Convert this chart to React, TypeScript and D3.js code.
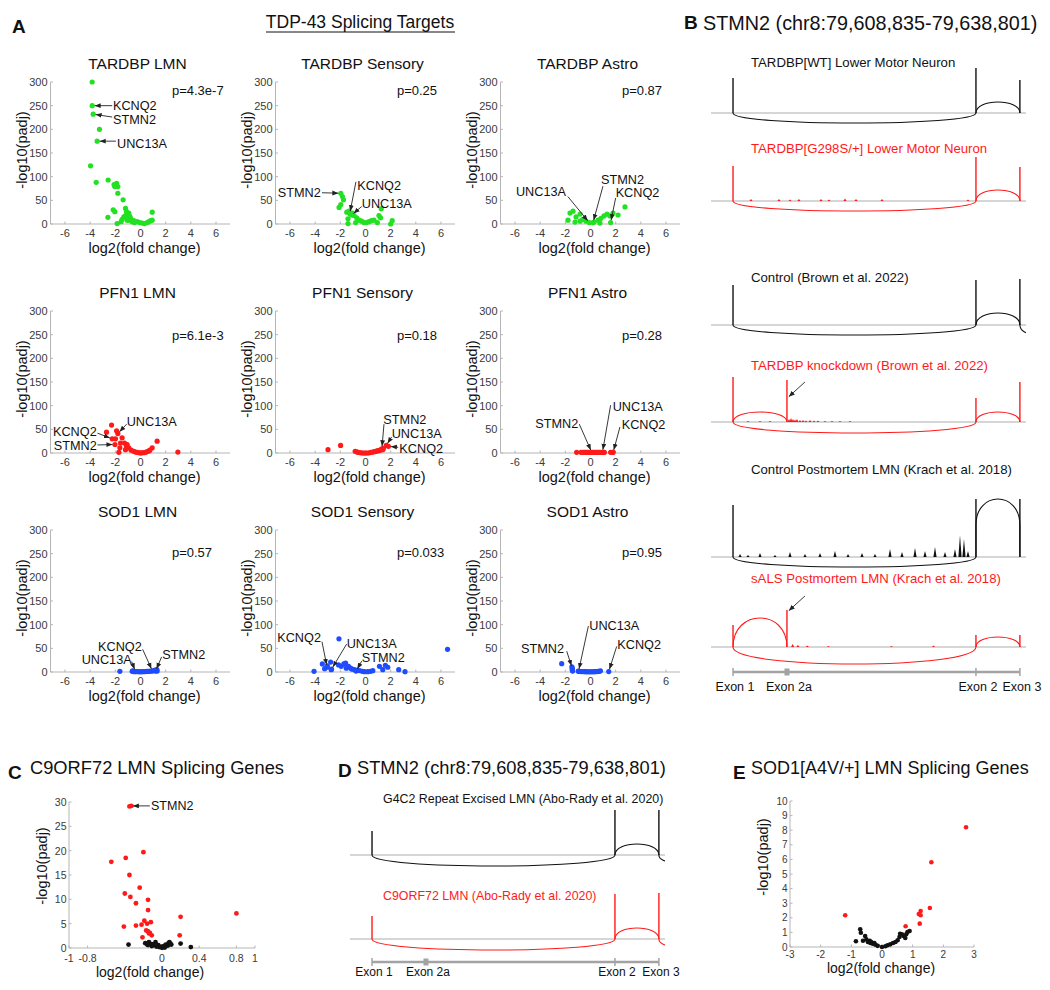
import React from "react";
import * as d3 from "d3";

const FONT = "'Liberation Sans', Arial, Helvetica, sans-serif";
const GREEN = "#22e022";
const RED = "#ff1a1a";
const BLUE = "#1f4cff";
const BLACK = "#111111";
const AXIS = "#b5b5b5";
const TICKTXT = "#3a3a3a";

// ---------------- Panel A: volcano plots ----------------
const volcanoXTicks = [-6, -4, -2, 0, 2, 4, 6];
const volcanoYTicks = [0, 50, 100, 150, 200, 250, 300];
const volcanoTitles = [
  "TARDBP LMN", "TARDBP Sensory", "TARDBP Astro",
  "PFN1 LMN", "PFN1 Sensory", "PFN1 Astro",
  "SOD1 LMN", "SOD1 Sensory", "SOD1 Astro",
];
const volcanoPValues = [
  "p=4.3e-7", "p=0.25", "p=0.87",
  "p=6.1e-3", "p=0.18", "p=0.28",
  "p=0.57", "p=0.033", "p=0.95",
];

const tardbpLmnPts = [[-3.84,300],[-3.84,250],[-3.76,232],[-3.26,200],[-3.44,175],[-3.97,123],[-3.52,88],[-2.57,93],[-1.9,86],[-2.04,79],[-1.8,79],[-2.1,83],[-1.8,65],[-1.38,51],[-2.17,30],[-2.04,26],[-1.19,33],[-1.11,26],[-0.93,23],[-1.06,19],[-2.59,14],[-1.32,15],[-0.79,12],[-0.95,8],[-1.54,5],[-1.85,1],[-0.66,5],[-0.53,7],[-0.26,5],[-0.05,3],[0.13,2],[0.32,1],[0.53,3],[0.66,5],[0.8,7],[0.93,8],[0.93,25],[-0.48,3],[-1.06,8],[-1.46,10],[-1.2,17],[-0.85,16]];
const tardbpSensPts = [[-1.96,65],[-1.83,58],[-1.75,51],[-1.96,41],[-2.1,35],[-1.49,25],[-1.31,27],[-1.17,21],[-1.25,22],[-1.1,19],[-1.04,23],[-1.39,11],[-0.91,18],[-0.7,13],[-0.51,8],[-0.3,6],[-0.12,3],[0.09,3],[0.28,5],[0.46,7],[0.67,8],[0.94,3],[1.07,18],[1.25,32],[1.2,13],[2.0,0],[2.12,7],[-1.39,1],[-0.78,3]];
const tardbpAstroPts = [[-1.63,23],[-1.39,27],[-1.15,15],[-0.83,21],[-0.6,10],[-0.36,6],[-0.1,3],[0.2,3],[0.28,4],[0.6,8],[0.83,12],[1.07,17],[1.31,21],[1.55,17],[1.6,3],[1.79,23],[2.19,19],[2.74,36],[-0.83,6],[0.75,2],[-1.79,8],[-1.23,4]];
const pfn1LmnPts = [[-2.3,59],[-2.7,44],[-1.8,41],[-1.9,47],[-2.25,30],[-1.99,30],[-1.46,32],[-1.59,21],[-1.27,21],[-1.06,18],[-1.11,14],[-1.64,11],[-1.19,7],[-2.03,18],[-0.93,11],[-0.74,6],[-0.53,3.5],[-0.26,1.5],[0,0],[0.26,0.7],[0.53,3],[0.74,6],[0.93,11],[1.32,25],[2.97,2],[-1.72,1.4],[-0.4,2],[0.4,1.5],[0.1,0.3],[-0.1,0.5],[0.65,4]];
const pfn1SensPts = [[-2.98,7],[-1.98,16],[-0.82,3.5],[-0.61,1.4],[-0.34,0.3],[-0.2,0],[-0.08,0],[0.05,0],[0.18,0],[0.32,0.5],[0.45,1.4],[0.58,2],[0.71,2.8],[0.82,3.5],[0.92,4.3],[1.02,5],[1.11,5.7],[1.2,6.5],[1.3,9],[1.37,7],[1.42,10],[1.65,16],[1.82,14],[-0.7,2.5],[-0.48,1]];
const pfn1AstroPts = [[-1.1,1.5],[-0.75,1.5],[-0.6,1.2],[-0.5,1.5],[-0.4,1.2],[-0.3,1.5],[-0.2,1.2],[-0.1,1.5],[0,1.2],[0.1,1.5],[0.2,1.2],[0.3,1.5],[0.4,1.2],[0.5,1.5],[0.6,1.2],[0.7,1.5],[0.8,1.2],[0.95,1.5],[1.05,1.2],[1.1,1.5],[1.6,1.5],[1.75,1.2],[1.8,1.5]];
const sod1LmnPts = [[-1.64,1.4],[-0.66,1.5],[-0.55,1],[-0.45,1],[-0.4,1],[-0.3,1],[-0.2,0.8],[-0.1,0.5],[0,0.5],[0.1,0.5],[0.2,0.8],[0.3,1],[0.4,1],[0.5,1.2],[0.6,1.5],[0.7,1.5],[0.8,2],[0.95,2],[1.05,3],[1.15,4],[1.2,2],[1.3,5],[1.32,2],[-0.62,2.5]];
const sod1SensPts = [[-4.09,1.4],[-3.43,17],[-3.25,7],[-3.05,10],[-3.03,13],[-2.77,21],[-2.72,5],[-2.7,6],[-2.11,70],[-2.14,15],[-1.93,12],[-1.72,17],[-1.58,19],[-1.53,8],[-1.35,12],[-1.19,8],[-1.06,6],[-0.87,5],[-0.75,2],[-0.66,3.5],[-0.47,3],[-0.26,1.4],[-0.08,0.7],[0.18,0.7],[0.4,1.4],[0.58,2.8],[1.11,12],[1.37,5],[1.58,14],[1.77,10],[2.64,5],[3.14,0.7],[6.52,48]];
const sod1AstroPts = [[-2.29,17.6],[-1.45,8],[-1.45,4],[-1.48,11],[-1.42,2],[-0.97,2],[-0.95,1.5],[-0.85,1.5],[-0.75,1],[-0.6,1],[-0.5,0.8],[-0.4,0.6],[-0.3,0.5],[-0.2,0.5],[-0.1,0.5],[0,0.5],[0.1,0.5],[0.2,0.5],[0.3,0.6],[0.4,0.8],[0.5,1],[0.6,1.2],[0.7,1.5],[0.79,2.5],[1.45,1]];

// gene positions (log2FC, -log10 padj) in each panel
const tardbpLmnGenes = { KCNQ2: [-3.84, 250], STMN2: [-3.76, 232], UNC13A: [-3.44, 175] };
const tardbpSensGenes = { STMN2: [-1.96, 65], KCNQ2: [-1.25, 22], UNC13A: [-1.1, 19] };
const tardbpAstroGenes = { UNC13A: [-0.1, 3], STMN2: [0.2, 3], KCNQ2: [1.6, 3] };
const pfn1LmnGenes = { UNC13A: [-1.8, 41], KCNQ2: [-2.25, 30], STMN2: [-2.03, 18] };
const pfn1SensGenes = { STMN2: [1.3, 9], UNC13A: [1.65, 16], KCNQ2: [1.82, 14] };
const pfn1AstroGenes = { STMN2: [0.1, 1.5], UNC13A: [0.95, 1.5], KCNQ2: [1.8, 1.5] };
const sod1LmnGenes = { KCNQ2: [0.95, 2], UNC13A: [-0.4, 1], STMN2: [1.2, 2] };
const sod1SensGenes = { KCNQ2: [-3.05, 10], UNC13A: [-2.7, 6], STMN2: [-0.75, 2] };
const sod1AstroGenes = { STMN2: [-1.45, 8], UNC13A: [-0.95, 1.5], KCNQ2: [1.45, 1] };

// label layout (text anchor and arrow tail, in axis units)
const tardbpLmnLabels = [
  { g: "KCNQ2", lx: -2.19, ly: 250, a: "start", ax: -2.25, ay: 250 },
  { g: "STMN2", lx: -2.19, ly: 220, a: "start", ax: -2.25, ay: 226 },
  { g: "UNC13A", lx: -1.87, ly: 169, a: "start", ax: -1.95, ay: 175 },
];
const tardbpSensLabels = [
  { g: "STMN2", lx: -3.56, ly: 66, a: "end", ax: -3.46, ay: 66 },
  { g: "KCNQ2", lx: -0.65, ly: 81, a: "start", ax: -0.76, ay: 89 },
  { g: "UNC13A", lx: -0.3, ly: 43, a: "start", ax: -0.3, ay: 37 },
];
const tardbpAstroLabels = [
  { g: "UNC13A", lx: -1.95, ly: 68, a: "end", ax: -1.8, ay: 58 },
  { g: "STMN2", lx: 0.83, ly: 93, a: "start", ax: 0.99, ay: 80 },
  { g: "KCNQ2", lx: 2.0, ly: 66, a: "start", ax: 2.0, ay: 55 },
];
const pfn1LmnLabels = [
  { g: "UNC13A", lx: -1.1, ly: 66, a: "start", ax: -1.1, ay: 61 },
  { g: "KCNQ2", lx: -3.48, ly: 44.5, a: "end", ax: -3.42, ay: 42 },
  { g: "STMN2", lx: -3.48, ly: 14, a: "end", ax: -3.42, ay: 17 },
];
const pfn1SensLabels = [
  { g: "STMN2", lx: 1.42, ly: 69, a: "start", ax: 1.47, ay: 61 },
  { g: "UNC13A", lx: 2.08, ly: 39.5, a: "start", ax: 2.08, ay: 34 },
  { g: "KCNQ2", lx: 2.69, ly: 9.5, a: "start", ax: 2.6, ay: 12 },
];
const pfn1AstroLabels = [
  { g: "STMN2", lx: -0.97, ly: 61, a: "end", ax: -0.89, ay: 61 },
  { g: "UNC13A", lx: 1.76, ly: 98, a: "start", ax: 1.6, ay: 101 },
  { g: "KCNQ2", lx: 2.48, ly: 59, a: "start", ax: 2.34, ay: 55 },
];
const sod1LmnLabels = [
  { g: "KCNQ2", lx: 0.1, ly: 53.5, a: "end", ax: 0.17, ay: 48 },
  { g: "UNC13A", lx: -0.7, ly: 25, a: "end", ax: -0.7, ay: 22 },
  { g: "STMN2", lx: 1.73, ly: 36, a: "start", ax: 1.68, ay: 32 },
];
const sod1SensLabels = [
  { g: "KCNQ2", lx: -3.54, ly: 71, a: "end", ax: -3.46, ay: 64 },
  { g: "UNC13A", lx: -1.5, ly: 59.5, a: "start", ax: -1.5, ay: 59 },
  { g: "STMN2", lx: -0.3, ly: 29, a: "start", ax: -0.3, ay: 23 },
];
const sod1AstroLabels = [
  { g: "STMN2", lx: -2.1, ly: 48.5, a: "end", ax: -1.89, ay: 44 },
  { g: "UNC13A", lx: -0.1, ly: 97, a: "start", ax: -0.17, ay: 97 },
  { g: "KCNQ2", lx: 2.13, ly: 57, a: "start", ax: 2.08, ay: 54 },
];

const volcanoPts = [tardbpLmnPts, tardbpSensPts, tardbpAstroPts, pfn1LmnPts, pfn1SensPts, pfn1AstroPts, sod1LmnPts, sod1SensPts, sod1AstroPts];
const volcanoGenes = [tardbpLmnGenes, tardbpSensGenes, tardbpAstroGenes, pfn1LmnGenes, pfn1SensGenes, pfn1AstroGenes, sod1LmnGenes, sod1SensGenes, sod1AstroGenes];
const volcanoLabels = [tardbpLmnLabels, tardbpSensLabels, tardbpAstroLabels, pfn1LmnLabels, pfn1SensLabels, pfn1AstroLabels, sod1LmnLabels, sod1SensLabels, sod1AstroLabels];
const rowColors = [GREEN, RED, BLUE];
const colAxisX = [50.5, 275.5, 500.5];
const rowBase = [224, 453, 672];
const rowPY = [283, 249, 253];

// ---------------- STMN2 sashimi data ----------------
const stmn2Window = [79608835, 79638801];
const exonNames = ["Exon 1", "Exon 2a", "Exon 2", "Exon 3"];
const exonStarts = [79610930, 79616060, 79634040, 79638220];
const downstreamExon = 79640800;
const [E1, E2A, E2, E3] = exonStarts;

const g298sNoise = [[79612640,2],[79615300,2],[79616350,1.5],[79617200,2],[79619300,2],[79620060,1.5],[79621580,2.5],[79622630,2],[79625100,2],[79633280,1.5]];
const kdNoise = [[79612355,1],[79613496,1],[79614447,1],[79616255,3],[79616445,4],[79616636,3],[79616826,2.5],[79617016,3],[79617300,2],[79617587,2],[79617872,1.5],[79618253,2],[79618633,1.5],[79619014,1.5],[79619680,1],[79620346,1],[79621107,1],[79622058,1]];
const krachCtrlNoise = [[79611600,3],[79612355,2],[79613496,4],[79614923,2],[79616350,5],[79617777,3],[79619204,4],[79620630,6],[79621870,3],[79623200,4],[79624436,3],[79625863,8],[79627005,5],[79628242,9],[79629193,6],[79630144,10],[79631095,5],[79632046,8],[79632522,22],[79632902,18],[79633283,6]];
const salsNoise = [[79616600,3],[79617100,2],[79618000,1.5],[79620000,1],[79626000,1],[79630000,1.5]];

const bTracks = [
  { label: "TARDBP[WT] Lower Motor Neuron", color: BLACK, spikes: [[E1,35],[E2,45],[E3,33]], arcs: [[E1,E2,-10],[E2,E3,11]], noise: [] },
  { label: "TARDBP[G298S/+] Lower Motor Neuron", color: RED, spikes: [[E1,35],[E2,44],[E3,34]], arcs: [[E1,E2,-10],[E2,E3,11]], noise: g298sNoise },
  { label: "Control (Brown et al. 2022)", color: BLACK, spikes: [[E1,40],[E2,45],[E3,46]], arcs: [[E1,E2,-10],[E2,E3,12],[E3,downstreamExon,-9]], noise: [] },
  { label: "TARDBP knockdown (Brown et al. 2022)", color: RED, spikes: [[E1,45],[E2A,42],[E2,24],[E3,40]], arcs: [[E1,E2A,10],[E1,E2,-11],[E2,E3,10]], noise: kdNoise, arrow: [E2A, 25] },
  { label: "Control Postmortem LMN (Krach et al. 2018)", color: BLACK, spikes: [[E1,52],[E2,58],[E3,58]], arcs: [[E1,E2,-10],[E2,E3,58]], noise: krachCtrlNoise },
  { label: "sALS Postmortem LMN (Krach et al. 2018)", color: RED, spikes: [[E1,22],[E2A,37],[E2,12],[E3,12]], arcs: [[E1,E2A,29],[E1,E2,-17],[E2,E3,10]], noise: salsNoise, arrow: [E2A, 36] },
];
const bBaselines = [113, 201, 325, 422, 557, 647];
const bLabelY = [62, 148, 277, 365, 469, 578];

const dTracks = [
  { label: "G4C2 Repeat Excised LMN (Abo-Rady et al. 2020)", color: BLACK, spikes: [[E1,24],[E2,45],[E3,45]], arcs: [[E1,E2,-11],[E2,E3,11],[E3,downstreamExon,-7]], noise: [] },
  { label: "C9ORF72 LMN (Abo-Rady et al. 2020)", color: RED, spikes: [[E1,23],[E2,45],[E3,46]], arcs: [[E1,E2,-11],[E2,E3,11],[E3,downstreamExon,-7]], noise: [] },
];
const dBaselines = [855, 939];
const dLabelY = [799, 896];

// ---------------- Panel C data ----------------
const cXTicks = [-1, -0.8, 0, 0.4, 0.8, 1];
const cYTicks = [0, 5, 10, 15, 20, 25, 30];
const c9SigPts = [[-0.35,29.1],[-0.33,29.2],[-0.2,19.7],[-0.545,17.7],[-0.39,18.5],[-0.35,15],[-0.24,12.4],[-0.4,11.2],[-0.34,10.5],[-0.15,9.9],[-0.28,9.2],[-0.15,7.8],[0.2,6.4],[0.8,7.1],[-0.19,5.6],[-0.12,5.3],[-0.16,5],[-0.22,4.8],[-0.28,4.6],[-0.41,4.4],[-0.17,3.6],[-0.15,3.4],[-0.14,3],[-0.13,3.1],[-0.11,2.6],[0.19,2.6],[-0.21,2.2]];
const c9NsPts = [[-0.36,0.7],[-0.16,0.7],[-0.14,1.2],[-0.11,0.8],[-0.07,1.2],[-0.09,0.6],[-0.04,0.6],[-0.01,0.3],[0.02,0.4],[0.04,0.7],[0.07,1.0],[0.08,1.2],[0.06,0.5],[0.1,0.7],[0.2,0.9],[0.31,0.2],[-0.03,0.2],[-0.06,0.3],[-0.11,0.4],[-0.15,0.6],[0.03,0.1],[0.07,0.6],[0,0.05],[0.09,0.9],[-0.18,1]];
const c9Stmn2 = [-0.34, 29.2];

// ---------------- Panel E data ----------------
const eXTicks = [-3, -2, -1, 0, 1, 2, 3];
const eYTicks = [0, 1, 2, 3, 4, 5, 6, 7, 8, 9, 10];
const sod1SigPts = [[2.74,8.2],[1.61,5.8],[1.56,2.67],[1.26,2.47],[1.2,2.26],[1.26,2.17],[1.23,1.6],[0.77,1.42],[-1.2,2.17]];
const sod1NsPts = [[-0.71,1.21],[-0.69,0.98],[-0.85,0.39],[-0.62,0.43],[-0.55,0.75],[-0.51,0.52],[-0.46,0.34],[-0.4,0.43],[-0.38,0.27],[-0.35,0.34],[-0.3,0.22],[-0.25,0.27],[-0.21,0.15],[-0.14,0.08],[0,0],[0.11,0.05],[0.18,0.12],[0.27,0.18],[0.36,0.27],[0.44,0.34],[0.51,0.46],[0.57,0.68],[0.59,0.9],[0.65,0.87],[0.7,0.75],[0.76,0.62],[0.79,0.87],[0.83,1.03],[0.9,1.1]];

// ---------------- helpers ----------------
function Arrow({ x1, y1, x2, y2, shorten = 2.5 }) {
  const dx = x2 - x1, dy = y2 - y1;
  const L = Math.sqrt(dx * dx + dy * dy) || 1;
  const ex = x2 - (dx / L) * shorten, ey = y2 - (dy / L) * shorten;
  return <line x1={x1} y1={y1} x2={ex} y2={ey} stroke="#222" strokeWidth={0.9} markerEnd="url(#ah)" />;
}

function Volcano({ idx }) {
  const r = Math.floor(idx / 3), c = idx % 3;
  const ax = colAxisX[c], base = rowBase[r];
  const x = d3.scaleLinear().domain([-6, 6]).range([ax + 14.5, ax + 165.5]);
  const y = d3.scaleLinear().domain([0, 300]).range([base, base - 142]);
  const xEnd = ax + 179.5;
  const color = rowColors[r];
  const genes = volcanoGenes[idx];
  return (
    <g>
      <text x={ax + 87} y={base - 161} textAnchor="middle" dominantBaseline="central" fontSize={15.5} fill="#111">{volcanoTitles[idx]}</text>
      <line x1={ax} x2={ax} y1={y(300)} y2={base} stroke={AXIS} />
      <line x1={ax} x2={xEnd} y1={base} y2={base} stroke={AXIS} />
      {volcanoYTicks.map((t) => (
        <g key={"y" + t}>
          <line x1={ax} x2={ax + 2.5} y1={y(t)} y2={y(t)} stroke={AXIS} />
          <text x={ax - 3} y={y(t)} textAnchor="end" dominantBaseline="central" fontSize={11} fill={TICKTXT}>{t}</text>
        </g>
      ))}
      {volcanoXTicks.map((t) => (
        <g key={"x" + t}>
          <line x1={x(t)} x2={x(t)} y1={base} y2={base - 2.5} stroke={AXIS} />
          <text x={x(t)} y={base + 8.5} textAnchor="middle" dominantBaseline="central" fontSize={11} fill={TICKTXT}>{t}</text>
        </g>
      ))}
      <text transform={`translate(${ax - 28.5},${base - 74}) rotate(-90)`} textAnchor="middle" dominantBaseline="central" fontSize={14.5} fill="#111">-log10(padj)</text>
      <text x={ax + 94} y={base + 24} textAnchor="middle" dominantBaseline="central" fontSize={14.5} fill="#111">log2(fold change)</text>
      {volcanoPts[idx].map((p, i) => (
        <circle key={i} cx={x(p[0])} cy={y(p[1])} r={2.6} fill={color} />
      ))}
      <text x={x(2.5)} y={y(rowPY[r])} dominantBaseline="central" fontSize={13} fill="#111">{volcanoPValues[idx]}</text>
      {volcanoLabels[idx].map((l) => {
        const g = genes[l.g];
        return (
          <g key={l.g}>
            <Arrow x1={x(l.ax)} y1={y(l.ay)} x2={x(g[0])} y2={y(g[1])} />
            <text x={x(l.lx)} y={y(l.ly)} textAnchor={l.a} dominantBaseline="central" fontSize={12.7} fill="#111">{l.g}</text>
          </g>
        );
      })}
    </g>
  );
}

function arcD(xa, xb, base, top) {
  // junction arc; tall narrow arcs get straight sides with a rounded cap
  const p = d3.path();
  const h = top - base;
  const w = Math.abs(xb - xa);
  p.moveTo(xa, base);
  if (Math.abs(h) > 0.8 * w) {
    const side = base + 0.55 * h;
    const yc = side + (4 / 3) * (top - side);
    p.lineTo(xa, side);
    p.bezierCurveTo(xa, yc, xb, yc, xb, side);
    p.lineTo(xb, base);
  } else {
    const yc = base + (4 / 3) * h;
    p.bezierCurveTo(xa, yc, xb, yc, xb, base);
  }
  return p.toString();
}

function Sashimi({ xs, base, track, labelX, labelY, labelSize, clip }) {
  const ys = d3.scaleLinear().domain([0, 100]).range([base, base - 100]);
  const col = track.color;
  const [r0, r1] = xs.range();
  return (
    <g>
      <text x={labelX} y={labelY} dominantBaseline="central" fontSize={labelSize} fill={col}>{track.label}</text>
      <line x1={r0} x2={r1} y1={base} y2={base} stroke="#c9c9c9" strokeWidth={1.3} />
      <g clipPath={`url(#${clip})`}>
        {track.noise.map(([p, h], i) => (
          <path key={"n" + i} d={`M${xs(p) - 1.6},${base}L${xs(p)},${ys(h)}L${xs(p) + 1.6},${base}Z`} fill={col} />
        ))}
        {track.arcs.map(([a, b, h], i) => (
          <path key={"a" + i} d={arcD(xs(a), xs(b), base, ys(h))} fill="none" stroke={col} strokeWidth={1.1} />
        ))}
        {track.spikes.map(([p, h], i) => (
          <line key={"s" + i} x1={xs(p)} x2={xs(p)} y1={base} y2={ys(h)} stroke={col} strokeWidth={1.4} />
        ))}
      </g>
      {track.arrow && (
        <Arrow x1={xs(track.arrow[0]) + 18} y1={ys(track.arrow[1]) - 15} x2={xs(track.arrow[0]) + 1.5} y2={ys(track.arrow[1])} shorten={0.5} />
      )}
    </g>
  );
}

function ExonAxis({ xs, y, labelY, fontSize }) {
  const c = "#a3a3a3";
  return (
    <g>
      <line x1={xs(E1)} x2={xs(E3)} y1={y} y2={y} stroke={c} strokeWidth={2.4} />
      {exonStarts.map((p, i) =>
        i === 1 ? (
          <rect key={i} x={xs(p) - 2.5} y={y - 3.5} width={5} height={7} fill={c} />
        ) : (
          <line key={i} x1={xs(p)} x2={xs(p)} y1={y - 4} y2={y + 4} stroke={c} strokeWidth={1.5} />
        )
      )}
      {exonStarts.map((p, i) => (
        <text key={"t" + i} x={xs(p) + 2} y={labelY} textAnchor="middle" dominantBaseline="central" fontSize={fontSize} fill="#111">{exonNames[i]}</text>
      ))}
    </g>
  );
}

function Scatter({ x, y, xTicks, yTicks, xFmt, tickSize, xTickDy, yTitlePos, xTitlePos }) {
  const [x0, x1] = x.range();
  const [y0, y1] = y.range();
  return (
    <g>
      <line x1={x0} x2={x0} y1={y1} y2={y0} stroke={AXIS} />
      <line x1={x0} x2={x1} y1={y0} y2={y0} stroke={AXIS} />
      {yTicks.map((t) => (
        <g key={"y" + t}>
          <line x1={x0} x2={x0 + 2.5} y1={y(t)} y2={y(t)} stroke={AXIS} />
          <text x={x0 - 2.5} y={y(t)} textAnchor="end" dominantBaseline="central" fontSize={tickSize} fill={TICKTXT}>{t}</text>
        </g>
      ))}
      {xTicks.map((t) => (
        <g key={"x" + t}>
          <line x1={x(t)} x2={x(t)} y1={y0} y2={y0 - 2.5} stroke={AXIS} />
          <text x={x(t)} y={y0 + xTickDy} textAnchor="middle" dominantBaseline="central" fontSize={tickSize} fill={TICKTXT}>{xFmt(t)}</text>
        </g>
      ))}
      <text transform={`translate(${yTitlePos[0]},${yTitlePos[1]}) rotate(-90)`} textAnchor="middle" dominantBaseline="central" fontSize={14.5} fill="#111">-log10(padj)</text>
      <text x={xTitlePos[0]} y={xTitlePos[1]} textAnchor="middle" dominantBaseline="central" fontSize={14} fill="#111">log2(fold change)</text>
    </g>
  );
}

export default function App() {
  const xsB = d3.scaleLinear().domain(stmn2Window).range([711, 1026]);
  const xsD = d3.scaleLinear().domain(stmn2Window).range([350, 665]);

  const cx = d3.scaleLinear().domain([-1, 1]).range([69, 255]);
  const cy = d3.scaleLinear().domain([0, 30]).range([948, 802]);
  const ex = d3.scaleLinear().domain([-3, 3]).range([790, 974]);
  const ey = d3.scaleLinear().domain([0, 10]).range([947, 801]);

  return (
    <svg width={1050} height={990} style={{ position: "absolute", left: 0, top: 0, background: "#fff" }} fontFamily={FONT}>
      <defs>
        <marker id="ah" markerUnits="userSpaceOnUse" markerWidth={7} markerHeight={6} refX={6} refY={3} orient="auto">
          <path d="M0,0.6 L6,3 L0,5.4 Z" fill="#222" />
        </marker>
        <clipPath id="clipB"><rect x={711} y={0} width={315} height={700} /></clipPath>
        <clipPath id="clipD"><rect x={350} y={780} width={315} height={200} /></clipPath>
      </defs>
      <rect x={0} y={0} width={1050} height={990} fill="#fff" />

      {/* Panel A */}
      <text x={12} y={26} dominantBaseline="central" fontSize={19} fontWeight="bold" fill="#111">A</text>
      <text x={360} y={22} textAnchor="middle" dominantBaseline="central" fontSize={17.5} fill="#111">TDP-43 Splicing Targets</text>
      <line x1={266} x2={455} y1={32} y2={32} stroke="#111" strokeWidth={1} />
      {volcanoTitles.map((t, i) => <Volcano key={t} idx={i} />)}

      {/* Panel B */}
      <text x={684} y={22} dominantBaseline="central" fontSize={19} fontWeight="bold" fill="#111">B</text>
      <text x={703} y={23} dominantBaseline="central" fontSize={19.8} fill="#111">STMN2 (chr8:79,608,835-79,638,801)</text>
      {bTracks.map((t, i) => (
        <Sashimi key={i} xs={xsB} base={bBaselines[i]} track={t} labelX={751} labelY={bLabelY[i]} labelSize={13.2} clip="clipB" />
      ))}
      <ExonAxis xs={xsB} y={672} labelY={687} fontSize={12.5} />

      {/* Panel C */}
      <text x={8} y={772} dominantBaseline="central" fontSize={19} fontWeight="bold" fill="#111">C</text>
      <text x={30} y={767} dominantBaseline="central" fontSize={18.3} fill="#111">C9ORF72 LMN Splicing Genes</text>
      <Scatter x={cx} y={cy} xTicks={cXTicks} yTicks={cYTicks} xFmt={(t) => String(t)} tickSize={10.5} xTickDy={9.5} yTitlePos={[42, 866]} xTitlePos={[150, 972]} />
      {c9NsPts.map((p, i) => <circle key={"cb" + i} cx={cx(p[0])} cy={cy(p[1])} r={2.4} fill="#111" />)}
      {c9SigPts.map((p, i) => <circle key={"cr" + i} cx={cx(p[0])} cy={cy(p[1])} r={2.4} fill={RED} />)}
      <Arrow x1={cx(-0.13)} y1={cy(29.2)} x2={cx(c9Stmn2[0])} y2={cy(c9Stmn2[1])} />
      <text x={cx(-0.118)} y={cy(29.2)} dominantBaseline="central" fontSize={12.5} fill="#111">STMN2</text>

      {/* Panel D */}
      <text x={338} y={770} dominantBaseline="central" fontSize={19} fontWeight="bold" fill="#111">D</text>
      <text x={357} y={767} dominantBaseline="central" fontSize={18.3} fill="#111">STMN2 (chr8:79,608,835-79,638,801)</text>
      {dTracks.map((t, i) => (
        <Sashimi key={i} xs={xsD} base={dBaselines[i]} track={t} labelX={383} labelY={dLabelY[i]} labelSize={12.4} clip="clipD" />
      ))}
      <ExonAxis xs={xsD} y={962} labelY={972} fontSize={12} />

      {/* Panel E */}
      <text x={733} y={772} dominantBaseline="central" fontSize={19} fontWeight="bold" fill="#111">E</text>
      <text x={751} y={768} dominantBaseline="central" fontSize={18} fill="#111">SOD1[A4V/+] LMN Splicing Genes</text>
      <Scatter x={ex} y={ey} xTicks={eXTicks} yTicks={eYTicks} xFmt={(t) => String(t)} tickSize={10} xTickDy={7} yTitlePos={[763, 857]} xTitlePos={[881, 968]} />
      {sod1NsPts.map((p, i) => <circle key={"eb" + i} cx={ex(p[0])} cy={ey(p[1])} r={2.3} fill="#111" />)}
      {sod1SigPts.map((p, i) => <circle key={"er" + i} cx={ex(p[0])} cy={ey(p[1])} r={2.3} fill={RED} />)}
    </svg>
  );
}
